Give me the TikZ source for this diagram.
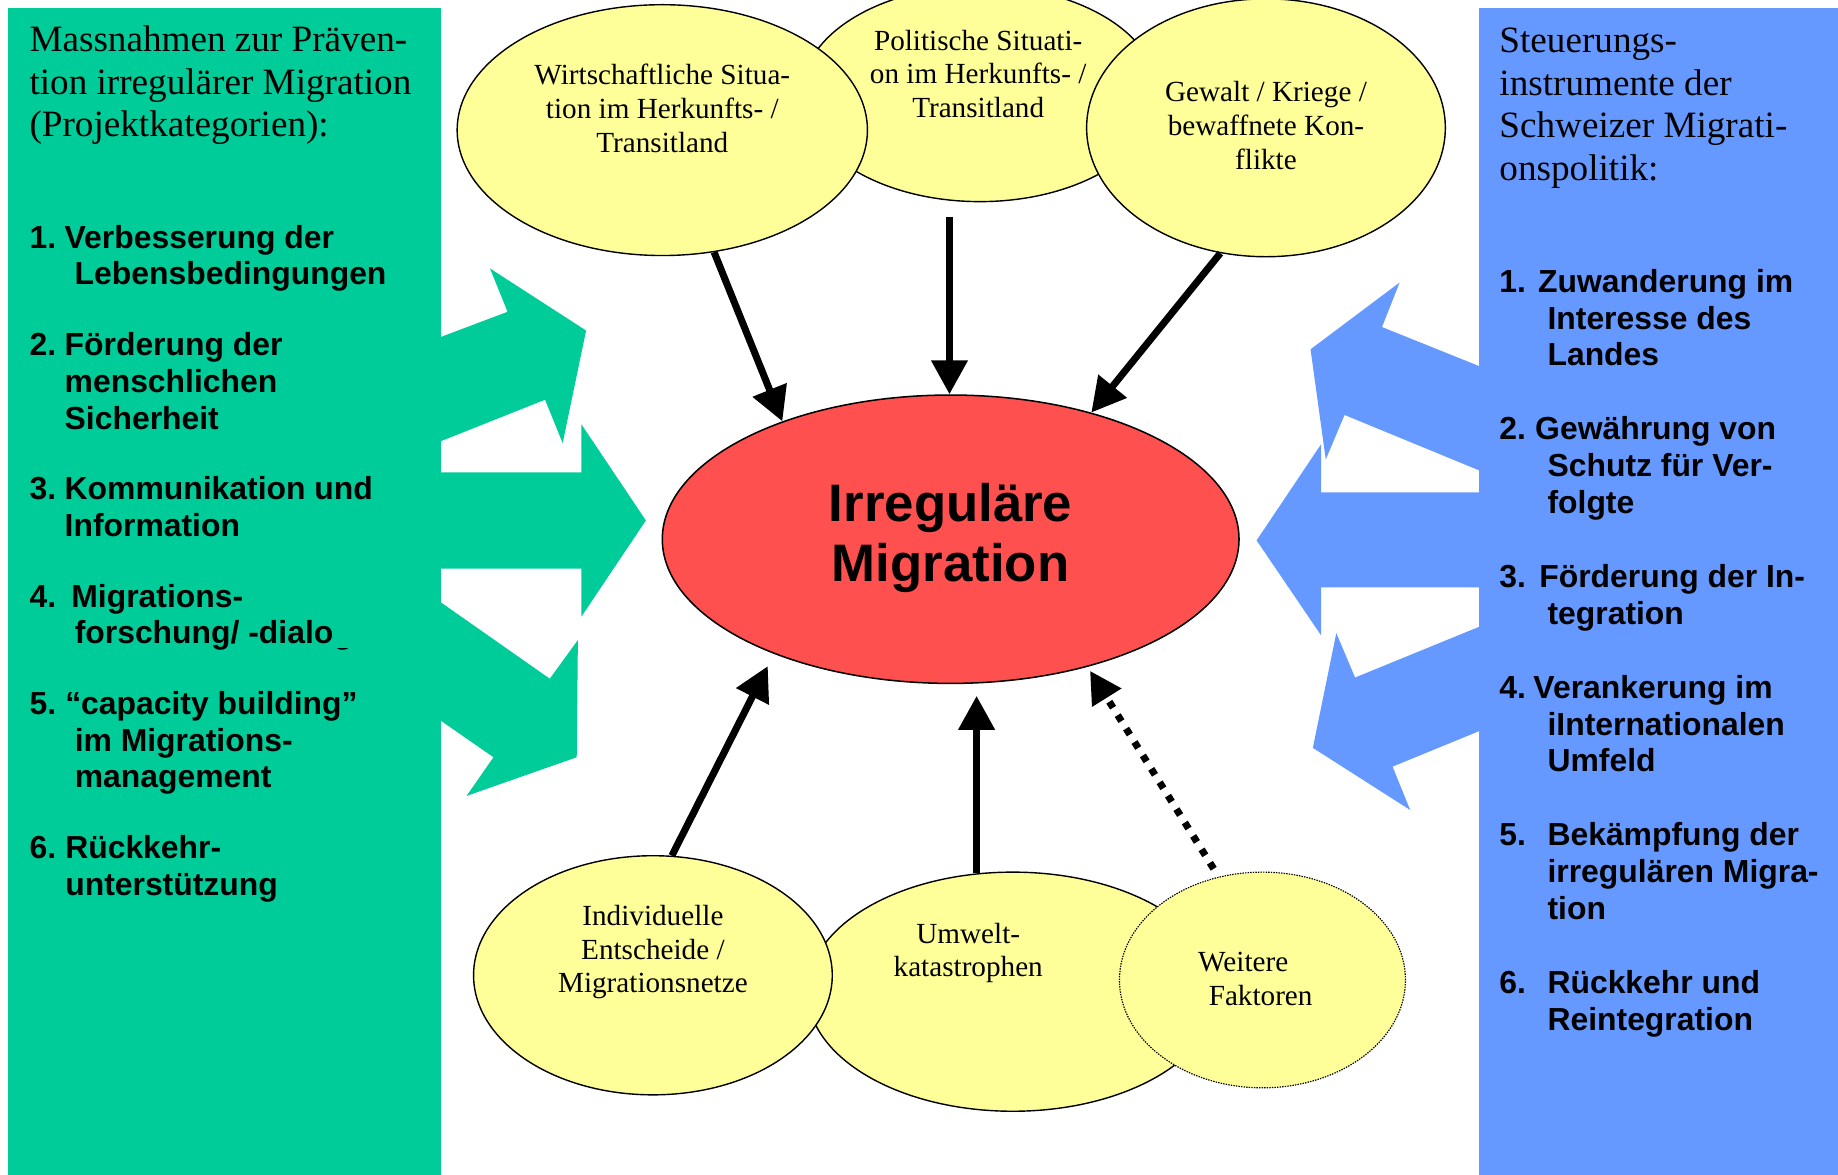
\documentclass[tikz,border=0pt]{standalone}
\usepackage{fontspec}
\setmainfont{Liberation Serif}
\setsansfont{Liberation Sans}
\usepackage{tikz}
\usetikzlibrary{shapes.geometric}
\usetikzlibrary{arrows.meta}
\usepackage{xcolor}
\definecolor{prevgreen}{RGB}{0,204,153}
\definecolor{steerblue}{RGB}{102,153,255}
\definecolor{factoryellow}{RGB}{255,255,153}
\definecolor{migred}{RGB}{255,80,80}
\newcommand{\lnum}[2]{\makebox[#1pt][l]{#2}}
\newcommand{\tstack}[2][c]{\begin{tabular}[t]{@{}#1@{}}#2\end{tabular}}
\tikzset{%
  factor/.style={ellipse,draw=black,line width=1.2pt,fill=factoryellow,inner sep=0pt},
  core/.style={ellipse,draw=black,line width=1.3pt,fill=migred,inner sep=0pt},
  infl/.style={line width=6pt,-{Triangle[length=29pt,width=30pt]}},
  weak/.style={line width=6pt,dash pattern=on 6pt off 7.5pt,-{Triangle[length=27pt,width=28pt]}},
  factortext/.style={anchor=base,inner sep=0pt,font=\fontsize{24.9}{28.6}\selectfont},
  coretext/.style={anchor=base,inner sep=0pt,font=\fontsize{45}{51}\selectfont\sffamily\bfseries},
  headtext/.style={anchor=base west,inner sep=0pt,font=\fontsize{31.7}{36.3}\selectfont},
  listtext/.style={anchor=base west,inner sep=0pt,font=\fontsize{27.2}{31.3}\selectfont\sffamily\bfseries}
}

\begin{document}
\begin{tikzpicture}[x=1pt,y=-1pt]
  \useasboundingbox (0,0) rectangle (1568,1002);
  \fill[white] (0,0) rectangle (1568,1002);

  % side panels and block arrows
  \fill[prevgreen] (7,7) rectangle (376,1002);
  \fill[steerblue] (1262,7) rectangle (1568,1002);
  \fill[prevgreen] (372,289) -- (433,266) -- (418,229) -- (500,282) -- (480,378) -- (465,341) -- (372,378) -- cycle;
  \fill[prevgreen] (372,403) -- (496,403) -- (496,362) -- (551,444) -- (496,526) -- (496,485) -- (372,485) -- cycle;
  \fill[prevgreen] (372,511) -- (469,579) -- (493,546) -- (492,646) -- (398,679) -- (421,646) -- (372,612) -- cycle;
  \fill[steerblue] (1266,314) -- (1179,279) -- (1194,241) -- (1118,298) -- (1131,392) -- (1147,354) -- (1266,403) -- cycle;
  \fill[steerblue] (1266,420) -- (1127,420) -- (1127,379) -- (1072,461) -- (1127,542) -- (1127,501) -- (1266,501) -- cycle;
  \fill[steerblue] (1266,533) -- (1156,578) -- (1140,540) -- (1120,638) -- (1203,691) -- (1188,654) -- (1266,622) -- cycle;

  % factors
  \node[factor,minimum width=304pt,minimum height=184pt] (polit) at (836,80) {};
  \node[factor,minimum width=350pt,minimum height=214pt] (wirt) at (565,111) {};
  \node[factor,minimum width=306pt,minimum height=220pt] (gewalt) at (1080,109) {};
  \node[factor,minimum width=350pt,minimum height=204pt] (umwelt) at (864,846) {};
  \node[factor,minimum width=306pt,minimum height=204pt] (indiv) at (557,832) {};
  \node[factor,densely dotted,line width=1pt,minimum width=244pt,minimum height=184pt] (weitere) at (1077,836) {};
  \node[core,minimum width=492pt,minimum height=246pt] (mig) at (811,460) {};

  % influences
  \coordinate (politend) at (810,185);
  \draw[infl] (wirt.-67.4) -- (mig.145.2);
  \draw[infl] (politend) -- (politend |- mig.north);
  \draw[infl] (gewalt.-110) -- (mig.42.2);
  \draw[infl,shorten >=11.7pt] (indiv.81.6) -- (mig.-147.6);
  \draw[infl,shorten >=10pt] (umwelt.107.7) -- (umwelt.107.7 |- mig.south);
  \draw[weak,shorten <=8pt,shorten >=4pt] (weitere.113.4) -- (mig.-43.4);

  \node[factortext] (polittext) at (834.5,42.7) {\tstack{Politische Situati-\\on im Herkunfts- /\\Transitland}};
  \node[factortext] (wirttext) at (565,72.5) {\tstack{Wirtschaftliche Situa-\\tion im Herkunfts- /\\Transitland}};
  \node[factortext] (gewalttext) at (1080,87) {\tstack{Gewalt / Kriege /\\bewaffnete Kon-\\flikte}};
  \node[factortext] (indivtext) at (557,789.7) {\tstack{Individuelle\\Entscheide /\\Migrationsnetze}};
  \node[factortext] (umwelttext) at (826,804.8) {\tstack{Umwelt-\\katastrophen}};
  \node[factortext,anchor=base west] (weitertext) at (1022,829) {\tstack[l]{Weitere\\\hspace*{9pt}Faktoren}};
  \node[coretext] (migtext) at (811,445) {\tstack{Irreguläre\\Migration}};

  % panel texts
  \node[headtext] (prevhead) at (25,44) {\tstack[l]{Massnahmen zur Präven-\\tion irregulärer Migration\\(Projektkategorien):}};
  \begin{scope}
    \clip (0,0) -- (376,0) -- (376,526) -- (284,526) -- (284,553) -- (376,553) -- (376,1002) -- (0,1002) -- cycle;
    \node[listtext] (prevlist) at (25,211.8) {\tstack[l]{%
      \lnum{30}{1.}Verbesserung der\\
      \hspace*{38.5pt}Lebensbedingungen\\[29pt]
      \lnum{30}{2.}Förderung der\\
      \hspace*{30pt}menschlichen\\
      \hspace*{30pt}Sicherheit\\[29pt]
      \lnum{30}{3.}Kommunikation und\\
      \hspace*{30pt}Information\\[29pt]
      \lnum{35.7}{4.}Migrations-\\
      \hspace*{38.6pt}forschung/ -dialog\\[29pt]
      \lnum{30.5}{5.}“capacity building”\\
      \hspace*{38.6pt}im Migrations-\\
      \hspace*{38.6pt}management\\[29pt]
      \lnum{30.5}{6.}Rückkehr-\\
      \hspace*{30.5pt}unterstützung}};
  \end{scope}

  \node[headtext] (steerhead) at (1279,45) {\tstack[l]{Steuerungs-\\instrumente der\\Schweizer Migrati-\\onspolitik:}};
  \node[listtext] (steerlist) at (1279,249.4) {\tstack[l]{%
    \lnum{33}{1.}Zuwanderung im\\
    \hspace*{41pt}Interesse des\\
    \hspace*{41pt}Landes\\[32pt]
    \lnum{30.5}{2.}Gewährung von\\
    \hspace*{41pt}Schutz für Ver-\\
    \hspace*{41pt}folgte\\[32pt]
    \lnum{34}{3.}Förderung der In-\\
    \hspace*{41pt}tegration\\[32pt]
    \lnum{29}{4.}Verankerung im\\
    \hspace*{41pt}iInternationalen\\
    \hspace*{41pt}Umfeld\\[32pt]
    \lnum{41}{5.}Bekämpfung der\\
    \hspace*{41pt}irregulären Migra-\\
    \hspace*{41pt}tion\\[32pt]
    \lnum{41}{6.}Rückkehr und\\
    \hspace*{41pt}Reintegration}};
\end{tikzpicture}
\end{document}
